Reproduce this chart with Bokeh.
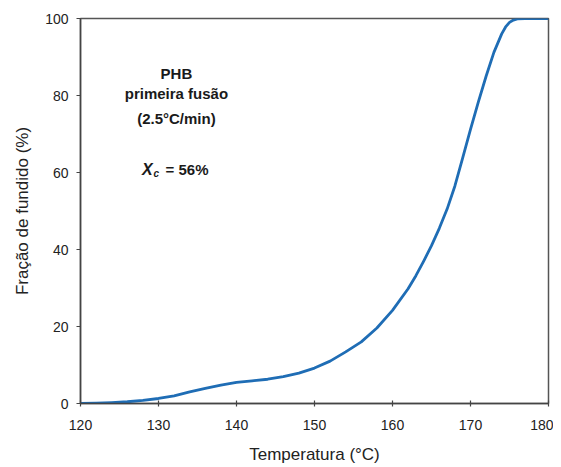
from bokeh.plotting import figure
from bokeh.models import Range1d, FixedTicker
from bokeh.embed import file_html
from bokeh.resources import INLINE
from bokeh.core.properties import value

# Data
temperature = [120, 122, 124, 126, 128, 130, 132, 134, 136, 138, 140, 142, 144,
               146, 148, 150, 152, 154, 156, 158, 160, 162, 163, 164, 165, 166, 167,
               168, 169, 170, 171, 172, 173, 174, 174.5, 175, 175.5, 176, 177, 178, 180]
melted_fraction = [0, 0.1, 0.25, 0.45, 0.8, 1.3, 2.0, 3.0, 3.9, 4.8, 5.5, 5.9, 6.3,
                   7.0, 7.9, 9.2, 11.0, 13.4, 16.0, 19.6, 24.2, 29.8, 33.2, 37.0, 41.0, 45.5, 50.5,
                   56.5, 63.8, 71.2, 78.3, 85.0, 91.2, 96.0, 97.8, 99.0, 99.6, 99.9, 100, 100, 100]
x_ticks = [120, 130, 140, 150, 160, 170, 180]
y_ticks = [0, 20, 40, 60, 80, 100]
note_lines = ["PHB", "primeira fusão", "(2.5°C/min)"]
xc_text = ["X", "c", "= 56%"]

FONT = "Liberation Sans"

p = figure(width=553, height=467, output_backend="svg", toolbar_location=None,
           x_range=Range1d(120, 180), y_range=Range1d(0, 100),
           min_border_left=80, min_border_right=5, min_border_top=18,
           min_border_bottom=64)
p.background_fill_color = "white"
p.border_fill_color = "white"
p.outline_line_color = "#555555"
p.outline_line_width = 1.5
p.xgrid.visible = False
p.ygrid.visible = False

p.line(temperature, melted_fraction, line_color="#1f6db5", line_width=2.8,
       line_join="round")

# Annotation block
p.text(x=[132.3, 132.3, 132.3], y=[85.7, 80.5, 74.0], text=note_lines,
       text_font=value(FONT), text_font_size="15px", text_font_style="bold",
       text_align="center", text_baseline="alphabetic", text_color="#1a1a1a")
p.text(x=[127.9], y=[60.8], text=[xc_text[0]], text_font=value(FONT),
       text_font_size="16px", text_font_style="bold italic",
       text_align="left", text_baseline="alphabetic", text_color="#1a1a1a")
p.text(x=[129.36], y=[59.7], text=[xc_text[1]], text_font=value(FONT),
       text_font_size="10px", text_font_style="bold italic",
       text_align="left", text_baseline="alphabetic", text_color="#1a1a1a")
p.text(x=[130.9], y=[60.8], text=[xc_text[2]], text_font=value(FONT),
       text_font_size="15px", text_font_style="bold",
       text_align="left", text_baseline="alphabetic", text_color="#1a1a1a")

# Axes
for ax in (p.xaxis[0], p.yaxis[0]):
    ax.axis_line_color = "#444444"
    ax.axis_line_width = 1.5
    ax.major_tick_line_color = "#444444"
    ax.major_tick_line_width = 1.2
    ax.minor_tick_line_color = None
    ax.major_label_text_font = FONT
    ax.major_label_text_font_size = "14px"
    ax.major_label_text_color = "#222222"
    ax.axis_label_text_font = FONT
    ax.axis_label_text_font_size = "17px"
    ax.axis_label_text_font_style = "normal"
    ax.axis_label_text_color = "#222222"

p.xaxis.ticker = FixedTicker(ticks=x_ticks)
p.yaxis.ticker = FixedTicker(ticks=y_ticks)
p.xaxis.axis_label = "Temperatura (°C)"
p.yaxis.axis_label = "Fração de fundido (%)"
p.xaxis.major_tick_in = 3
p.xaxis.major_tick_out = 3
p.yaxis.major_tick_in = 0
p.yaxis.major_tick_out = 4
p.xaxis.major_label_standoff = 13
p.yaxis.major_label_standoff = 8
p.xaxis.axis_label_standoff = 12
p.yaxis.axis_label_standoff = 10

open("out.html", "w").write(file_html(p, INLINE))
